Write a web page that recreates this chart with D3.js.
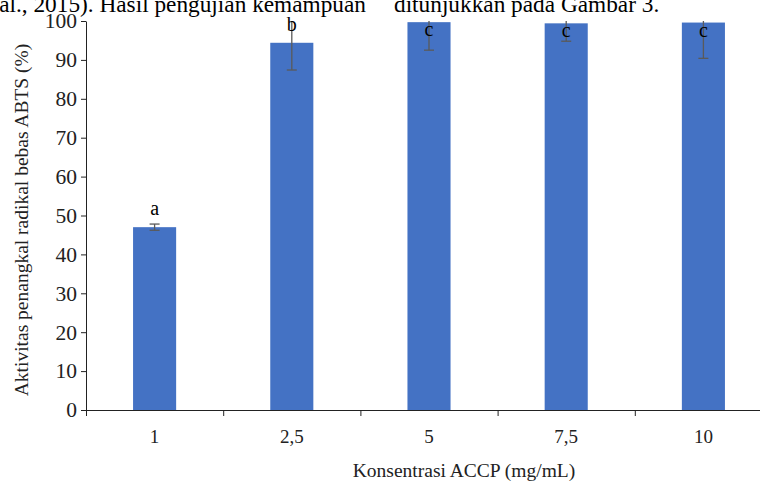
<!DOCTYPE html>
<html>
<head>
<meta charset="utf-8">
<script src="https://cdn.jsdelivr.net/npm/d3@7"></script>
<style>
  html, body { margin: 0; padding: 0; background: #fff; overflow: hidden; }
  svg { display: block; font-family: "Liberation Serif", "Times New Roman", serif; }
</style>
</head>
<body>
<svg id="chart" width="760" height="483"></svg>
<script>
// ---- data ----
const categories = ["1", "2,5", "5", "7,5", "10"];
const values = [47.0, 94.4, 99.7, 99.4, 99.6];
const errors = [0.8, 7.0, 7.2, 4.6, 9.2];
const letters = ["a", "b", "c", "c", "c"];
const yTicks = [0, 10, 20, 30, 40, 50, 60, 70, 80, 90, 100];
const yTitle = "Aktivitas penangkal radikal bebas ABTS (%)";
const xTitle = "Konsentrasi ACCP (mg/mL)";
const topTextLeft = "et al., 2015). Hasil pengujian kemampuan";
const topTextRight = "ditunjukkan pada Gambar 3.";

// ---- layout ----
const svg = d3.select("#chart");
const mLeft = 86, mRight = 772, mTop = 21, mBottom = 410;

const x = d3.scaleBand().domain(categories).range([mLeft, mRight])
  .paddingInner(0.686).paddingOuter(0.343);
const xb = d3.scaleLinear().domain([0, categories.length]).range([mLeft, mRight]);
const y = d3.scaleLinear().domain([0, 100]).range([mBottom, mTop]);

// paragraph text clipped at top
svg.append("text").attr("x", 366).attr("y", 12).attr("font-size", 23.3).attr("fill", "#000")
  .attr("text-anchor", "end").text(topTextLeft);
svg.append("text").attr("x", 394).attr("y", 12).attr("font-size", 23.3).attr("fill", "#000")
  .text(topTextRight);

// bars
svg.append("g").selectAll("rect").data(values).join("rect")
  .attr("x", (d, i) => x(categories[i]))
  .attr("y", d => y(d))
  .attr("width", x.bandwidth())
  .attr("height", d => y(0) - y(d))
  .attr("fill", "#4472C4");

// error bars (clipped to plot top)
const eg = svg.append("g").attr("stroke", "#5a5a5a").attr("stroke-width", 1.3).attr("fill", "none");
values.forEach((v, i) => {
  const cx = x(categories[i]) + x.bandwidth() / 2;
  const lo = v - errors[i], hi = Math.min(100, v + errors[i]);
  eg.append("line").attr("x1", cx).attr("x2", cx).attr("y1", y(lo)).attr("y2", y(hi));
  eg.append("line").attr("x1", cx - 5).attr("x2", cx + 5).attr("y1", y(lo)).attr("y2", y(lo));
  if (v + errors[i] <= 100) {
    eg.append("line").attr("x1", cx - 5).attr("x2", cx + 5).attr("y1", y(hi)).attr("y2", y(hi));
  }
});

// letter labels
svg.append("g").selectAll("text").data(letters).join("text")
  .attr("x", (d, i) => x(categories[i]) + x.bandwidth() / 2)
  .attr("y", (d, i) => {
    const yt = y(values[i]);
    return (yt - 12 - 12 < 5) ? yt + 14 : yt - 12;
  })
  .attr("text-anchor", "middle")
  .attr("font-size", 20)
  .attr("fill", "#000")
  .text(d => d);

// y axis
const yAxis = svg.append("g").attr("transform", `translate(${mLeft},0)`)
  .call(d3.axisLeft(y).tickValues(yTicks).tickSize(5).tickSizeOuter(0).tickPadding(4));
yAxis.selectAll("text").attr("font-size", 21.5).attr("fill", "#222")
  .attr("font-family", "Liberation Serif, serif");
yAxis.selectAll("line, path").attr("stroke", "#222");

// x axis: boundary ticks
const xAxisB = svg.append("g").attr("transform", `translate(0,${mBottom})`)
  .call(d3.axisBottom(xb).tickValues(d3.range(categories.length + 1)).tickSize(6).tickSizeOuter(0).tickFormat(""));
xAxisB.selectAll("line, path").attr("stroke", "#222");

// x category labels
const xAxisL = svg.append("g").attr("transform", `translate(0,${mBottom})`)
  .call(d3.axisBottom(x).tickSize(0).tickPadding(20));
xAxisL.select("path").remove();
xAxisL.selectAll("text").attr("font-size", 19).attr("fill", "#222")
  .attr("font-family", "Liberation Serif, serif");

// titles
svg.append("text").attr("x", 464).attr("y", 477).attr("text-anchor", "middle")
  .attr("font-size", 19.5).attr("fill", "#222").text(xTitle);
svg.append("text").attr("transform", "translate(28,220) rotate(-90)")
  .attr("text-anchor", "middle").attr("font-size", 19.5).attr("fill", "#222").text(yTitle);
</script>
</body>
</html>
